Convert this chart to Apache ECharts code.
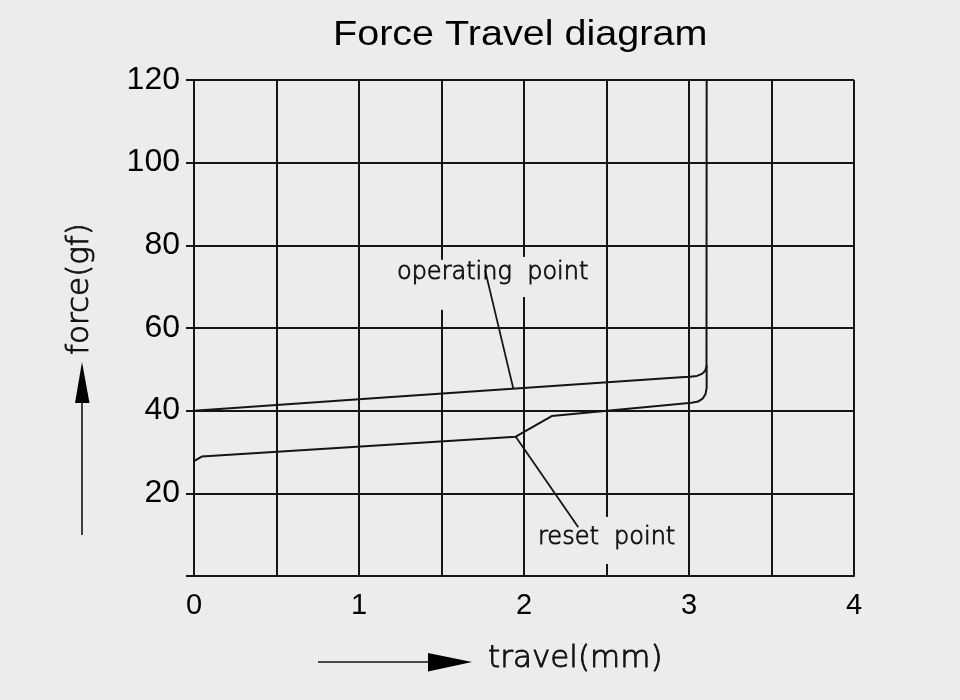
<!DOCTYPE html>
<html><head><meta charset="utf-8">
<script src="https://cdn.jsdelivr.net/npm/echarts@6/dist/echarts.min.js"></script>
<style>html,body{margin:0;padding:0;background:#ececee}#c{width:960px;height:700px}</style>
</head><body><div id="c"></div>
<script>
const xTickLabels = [0, 1, 2, 3, 4];
const yTickLabels = [20, 40, 60, 80, 100, 120];
const operatingCurve = [[0, 40], [1.13, 43.1], [2.95, 48.1], [3.006, 48.2], [3.048, 48.4], [3.079, 48.9], [3.097, 49.6], [3.106, 50.6], [3.107, 120]];
const resetCurve = [[0, 27.8], [0.047, 28.9], [1.95, 33.7], [2.168, 38.7], [3.016, 41.9], [3.055, 42.2], [3.082, 42.9], [3.1, 44.0], [3.107, 45.5], [3.107, 51]];
const operatingLeader = [[1.935, 45.4], [1.764, 74.0]];
const resetLeader = [[1.95, 33.7], [2.329, 11.8]];
const annotations = [[1.23, 73.3, 'operating  point'], [2.085, 9.2, 'reset  point']];
const gridGaps = [[1.5, 64.4, 76.5], [2.0, 67.5, 77.2], [2.5, 2.9, 14.3]];

const INK = '#151515';
const BG = '#ececee';
const chart = echarts.init(document.getElementById('c'));
const lineSeries = (data, w) => ({
  type: 'line', data, showSymbol: false, symbol: 'none', animation: false, z: 3,
  lineStyle: { color: INK, width: w }
});
chart.setOption({
  backgroundColor: BG,
  animation: false,
  grid: { left: 194, right: 106, top: 80, bottom: 124 },
  xAxis: {
    type: 'value', min: 0, max: 4, interval: 0.5,
    axisLine: { show: true, lineStyle: { color: INK, width: 2 } },
    axisTick: { show: false },
    splitLine: { show: true, lineStyle: { color: INK, width: 2 } },
    axisLabel: { margin: 15, fontSize: 29, color: '#000', fontFamily: 'Liberation Sans',
      formatter: v => xTickLabels.includes(v) ? String(v) : '' }
  },
  yAxis: {
    type: 'value', min: 0, max: 120, interval: 20,
    axisLine: { show: true, lineStyle: { color: INK, width: 2 } },
    axisTick: { show: true, length: 8, lineStyle: { color: INK, width: 2 } },
    splitLine: { show: true, lineStyle: { color: INK, width: 2 } },
    axisLabel: { margin: 14, fontSize: 32, color: '#000', fontFamily: 'Liberation Sans',
      formatter: v => yTickLabels.includes(v) ? String(v) : '' }
  },
  series: [
    lineSeries(operatingCurve, 2),
    lineSeries(resetCurve, 2),
    lineSeries(operatingLeader, 1.8),
    lineSeries(resetLeader, 1.8),
    { type: 'scatter', data: annotations, symbolSize: 0, z: 4, animation: false,
      label: { show: true, position: 'right', distance: 0, formatter: p => p.value[2],
        fontSize: 24, color: '#000', fontFamily: 'DejaVu Sans', fontWeight: 200,
        textBorderColor: '#000', textBorderWidth: 1 } }
  ]
});

const px = p => chart.convertToPixel({ gridIndex: 0 }, p);
const graphics = gridGaps.map(g => {
  const a = px([g[0], g[2]]), b = px([g[0], g[1]]);
  return { type: 'rect', z: 1, silent: true,
    shape: { x: a[0] - 3, y: a[1], width: 6, height: b[1] - a[1] },
    style: { fill: BG } };
});
const thinText = { fontFamily: 'DejaVu Sans', fontWeight: 200, fill: '#111', stroke: '#111', lineWidth: 0.9 };
graphics.push(
  { type: 'text', z: 5, x: 333, y: 18, scaleX: 1.13,
    style: { text: 'Force Travel diagram', fontSize: 35, fontFamily: 'Liberation Sans', fill: '#000', align: 'left', verticalAlign: 'top' } },
  { type: 'text', z: 5, x: 80, y: 289, rotation: Math.PI / 2,
    style: Object.assign({ text: 'force(gf)', fontSize: 31, align: 'center', verticalAlign: 'middle' }, thinText) },
  { type: 'line', z: 5, shape: { x1: 82, y1: 535, x2: 82, y2: 400 }, style: { stroke: INK, lineWidth: 1.6 } },
  { type: 'polygon', z: 5, shape: { points: [[82, 362], [75, 403], [89.5, 403]] }, style: { fill: '#000' } },
  { type: 'text', z: 5, x: 488, y: 659,
    style: Object.assign({ text: 'travel(mm)', fontSize: 31, align: 'left', verticalAlign: 'middle' }, thinText) },
  { type: 'line', z: 5, shape: { x1: 318, y1: 662, x2: 432, y2: 662 }, style: { stroke: INK, lineWidth: 1.6 } },
  { type: 'polygon', z: 5, shape: { points: [[472, 662], [428, 653], [428, 671.5]] }, style: { fill: '#000' } }
);
chart.setOption({ graphic: graphics });
</script></body></html>
